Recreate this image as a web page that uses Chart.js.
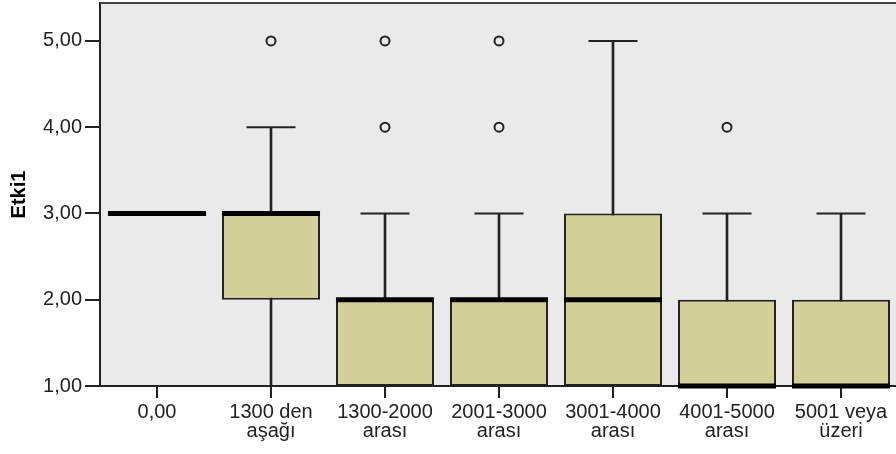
<!DOCTYPE html>
<html>
<head>
<meta charset="utf-8">
<script src="https://cdn.jsdelivr.net/npm/chart.js@4"></script>
<style>
  html, body { margin: 0; padding: 0; background: #fff; overflow: hidden; }
  #wrap { position: relative; width: 900px; height: 454px; }
</style>
</head>
<body>
<div id="wrap"><canvas id="chart"></canvas></div>
<script>
// kategoriler (gelir grupları)
const categories = [
  ['0,00'],
  ['1300 den', 'aşağı'],
  ['1300-2000', 'arası'],
  ['2001-3000', 'arası'],
  ['3001-4000', 'arası'],
  ['4001-5000', 'arası'],
  ['5001 veya', 'üzeri']
];
// kutu grafiği değerleri
const whiskerLow  = [3, 1, 1, 1, 1, 1, 1];
const q1          = [3, 2, 1, 1, 1, 1, 1];
const median      = [3, 3, 2, 2, 2, 1, 1];
const q3          = [3, 3, 2, 2, 3, 2, 2];
const whiskerHigh = [3, 4, 3, 3, 5, 3, 3];
const outliers    = [[], [5], [4, 5], [4, 5], [], [4], []];
const yTicks = [1, 2, 3, 4, 5];

const ink = '#222';
const boxFill = '#D3CF98';
const plotBg = '#EAEAEA';
const fontFamily = '"Liberation Sans", Arial, sans-serif';

const boxPct = 0.86;
const capPct = 0.43;
const halfCat = (ctx, pct) => ctx.chart.chartArea
  ? (ctx.chart.chartArea.right - ctx.chart.chartArea.left) / categories.length * pct / 2
  : 20;

const plotFrame = {
  id: 'plotFrame',
  beforeDraw(chart) {
    const { ctx, chartArea: a } = chart;
    ctx.save();
    ctx.fillStyle = plotBg;
    ctx.fillRect(a.left, a.top, a.right - a.left, a.bottom - a.top);
    ctx.restore();
  },
  beforeDatasetsDraw(chart) {
    const { ctx, chartArea: a } = chart;
    ctx.save();
    ctx.strokeStyle = '#444';
    ctx.lineWidth = 2;
    ctx.beginPath();
    ctx.moveTo(a.left, a.top);
    ctx.lineTo(a.right, a.top);
    ctx.stroke();
    ctx.restore();
  }
};

const maxOut = Math.max(...outliers.map(o => o.length));
const outlierSets = [];
for (let k = 0; k < maxOut; k++) {
  outlierSets.push({
    type: 'line',
    data: outliers.map(o => (o[k] !== undefined ? o[k] : null)),
    showLine: false,
    pointStyle: 'circle',
    pointRadius: 4.5,
    pointBorderWidth: 2,
    pointBorderColor: ink,
    pointBackgroundColor: plotBg,
    order: 0,
    clip: false
  });
}

new Chart(document.getElementById('chart'), {
  type: 'bar',
  data: {
    labels: categories,
    datasets: [
      {
        // bıyık çizgisi
        data: whiskerLow.map((lo, i) => (whiskerHigh[i] > lo ? [lo, whiskerHigh[i]] : null)),
        backgroundColor: ink,
        borderWidth: 0,
        barThickness: 2,
        grouped: false,
        order: 4
      },
      {
        // kutu
        data: q1.map((v, i) => (q3[i] > v ? [v, q3[i]] : null)),
        backgroundColor: boxFill,
        borderColor: ink,
        borderWidth: 2,
        borderSkipped: false,
        categoryPercentage: boxPct,
        barPercentage: 1,
        grouped: false,
        order: 3
      },
      {
        // üst bıyık ucu
        type: 'line',
        data: whiskerHigh.map((v, i) => (v > q3[i] ? v : null)),
        showLine: false,
        pointStyle: 'line',
        pointRadius: ctx => halfCat(ctx, capPct),
        pointBorderWidth: 2,
        pointBorderColor: ink,
        order: 2,
        clip: false
      },
      {
        // alt bıyık ucu
        type: 'line',
        data: whiskerLow.map((v, i) => (v < q1[i] ? v : null)),
        showLine: false,
        pointStyle: 'line',
        pointRadius: ctx => halfCat(ctx, capPct),
        pointBorderWidth: 2,
        pointBorderColor: ink,
        order: 2,
        clip: false
      },
      {
        // medyan
        type: 'line',
        data: median,
        showLine: false,
        pointStyle: 'line',
        pointRadius: ctx => halfCat(ctx, boxPct),
        pointBorderWidth: 5,
        pointBorderColor: '#000',
        order: 1,
        clip: false
      },
      ...outlierSets
    ]
  },
  options: {
    responsive: true,
    maintainAspectRatio: false,
    animation: false,
    events: [],
    layout: { autoPadding: false, padding: { top: 3, right: 2, left: 0, bottom: 0 } },
    plugins: {
      legend: { display: false },
      tooltip: { enabled: false }
    },
    scales: {
      x: {
        offset: true,
        grid: {
          offset: false,
          drawOnChartArea: false,
          drawTicks: true,
          tickLength: 12,
          tickColor: ink,
          lineWidth: 2
        },
        border: { display: true, color: ink, width: 2 },
        ticks: {
          autoSkip: false,
          maxRotation: 0,
          color: ink,
          padding: 5,
          font: { family: fontFamily, size: 20, lineHeight: 0.95 }
        },
        afterFit: scale => {
          scale.height = 68;
          scale.paddingLeft = 0;
          scale.paddingRight = 0;
        }
      },
      y: {
        min: 1,
        max: 5.44,
        afterBuildTicks: scale => { scale.ticks = yTicks.map(v => ({ value: v })); },
        grid: {
          drawOnChartArea: false,
          drawTicks: true,
          tickLength: 15,
          tickColor: ink,
          lineWidth: 2
        },
        border: { display: true, color: ink, width: 2 },
        ticks: {
          color: ink,
          padding: 3,
          font: { family: fontFamily, size: 20 },
          callback: v => v.toFixed(2).replace('.', ',')
        },
        title: {
          display: true,
          text: 'Etki1',
          color: '#000',
          padding: { top: 7, bottom: 0 },
          font: { family: fontFamily, size: 20, weight: 'bold' }
        },
        afterFit: scale => {
          scale.width = 100;
          scale.paddingTop = 0;
          scale.paddingBottom = 0;
        }
      }
    }
  },
  plugins: [plotFrame]
});
</script>
</body>
</html>
